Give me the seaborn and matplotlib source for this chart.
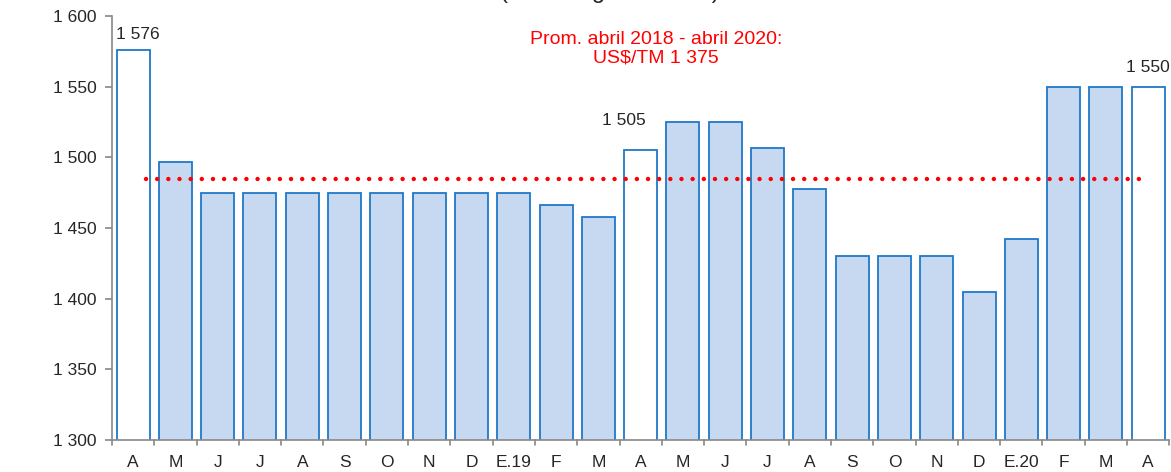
import numpy as np
import pandas as pd
import matplotlib
matplotlib.use("Agg")
import matplotlib.pyplot as plt
import seaborn as sns

# Datos (US$/TM)
meses = ["A", "M", "J", "J", "A", "S", "O", "N", "D", "E.19", "F", "M",
         "A", "M", "J", "J", "A", "S", "O", "N", "D", "E.20", "F", "M", "A"]
valores = [1576, 1497, 1475, 1475, 1475, 1475, 1475, 1475, 1475, 1475, 1466, 1458,
           1505, 1525, 1525, 1507, 1478, 1430, 1430, 1430, 1405, 1442, 1550, 1550, 1550]
destacados = [0, 12, 24]
promedio = 1485
etiquetas_yticks = ["1 300", "1 350", "1 400", "1 450", "1 500", "1 550", "1 600"]

df = pd.DataFrame({"pos": range(len(meses)), "valor": valores})
df["tipo"] = ["abril" if i in destacados else "mes" for i in df["pos"]]

sns.set_style("white")
plt.rcParams["font.family"] = ["Liberation Sans", "DejaVu Sans"]

fig = plt.figure(figsize=(11.71, 4.72), dpi=100)
ax = fig.add_axes([0.0956, 0.0678, 0.903, 0.898])

sns.barplot(data=df, x="pos", y="valor", hue="tipo",
            palette={"mes": "#C6D9F0", "abril": "white"}, saturation=1,
            dodge=False, width=0.78, edgecolor="#1F78C8", linewidth=1.3,
            legend=False, ax=ax)

# linea de promedio
ax.hlines(promedio, 0.3, 24.0, linestyles=[(0, (0.01, 2.5))], colors="red",
          linewidth=3.2, capstyle="round", zorder=5)
ax.set_xlim(-0.5, len(meses) - 0.5)

ax.set_ylim(1300, 1600)
ax.set_yticks(np.arange(1300, 1601, 50))
ax.set_yticklabels(etiquetas_yticks, fontsize=12.5)
ax.set_xticks(df["pos"])
ax.set_xticklabels(meses, fontsize=12.5)
ax.tick_params(axis="x", length=0, pad=11)
ax.tick_params(axis="y", length=5, color="#888888", width=1.2, pad=6, left=True)
for b in np.arange(-0.5, len(meses), 1.0):
    ax.plot([b, b], [1300, 1296.5], color="#888888", lw=1.2, clip_on=False)
ax.set_xlabel("")
ax.set_ylabel("")
for s in ["top", "right"]:
    ax.spines[s].set_visible(False)
for s in ["left", "bottom"]:
    ax.spines[s].set_color("#888888")
    ax.spines[s].set_linewidth(1.2)

# etiquetas
ax.text(-0.4, valores[0] + 6, "1 576", fontsize=12.5, ha="left", va="bottom")
ax.text(12.12, valores[12] + 16, "1 505", fontsize=12.5, ha="right", va="bottom")
ax.text(24.5, valores[24] + 8, "1 550", fontsize=12.5, ha="right", va="bottom")
ax.text(12.36, 1577, "Prom. abril 2018 - abril 2020:\nUS$/TM 1 375", color="red",
        fontsize=14, ha="center", va="center", linespacing=1.15)

fig.text(0.521, 1.004, "(Hamburgo US$/TM)", fontsize=17, ha="center", va="baseline")

fig.savefig("out.png", dpi=100)
